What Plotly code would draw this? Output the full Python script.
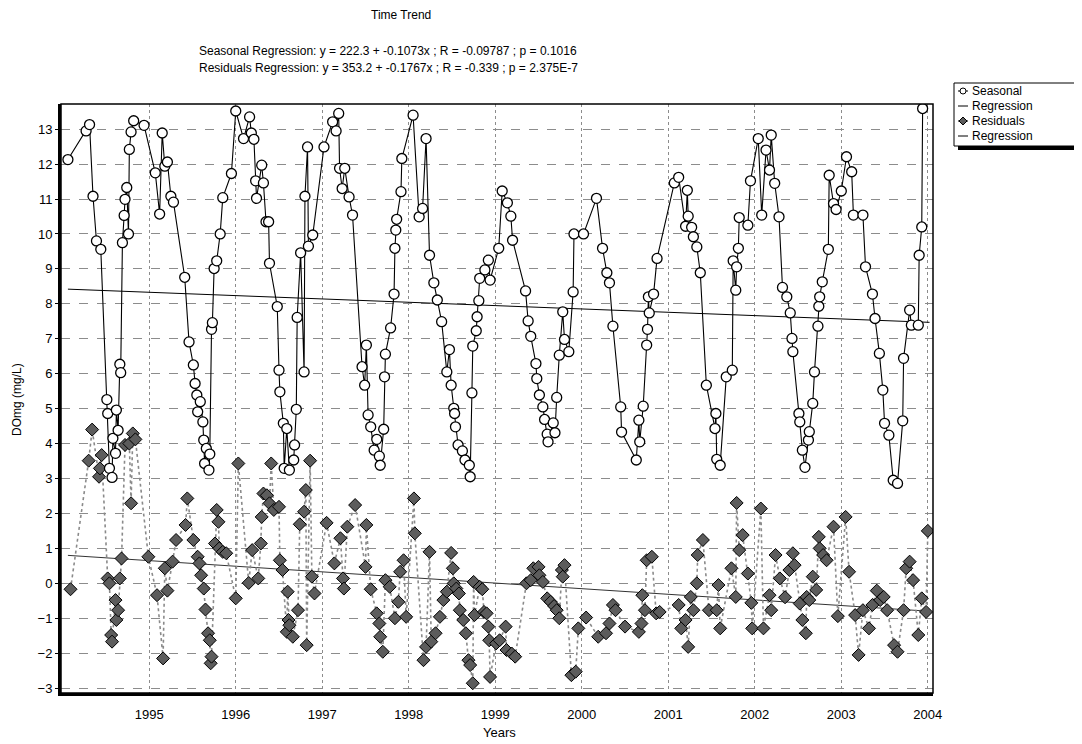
import plotly.graph_objects as go

# ---------------- data ----------------
seasonal_years = [
    1994.06, 1994.27, 1994.31, 1994.35, 1994.39, 1994.44, 1994.51, 1994.52, 1994.54, 1994.57,
    1994.58, 1994.61, 1994.62, 1994.64, 1994.66, 1994.67, 1994.69, 1994.71, 1994.72, 1994.74,
    1994.76, 1994.77, 1994.79, 1994.82, 1994.94, 1995.07, 1995.12, 1995.15, 1995.18, 1995.21,
    1995.25, 1995.28, 1995.41, 1995.46, 1995.51, 1995.53, 1995.55, 1995.56, 1995.59, 1995.62,
    1995.63, 1995.64, 1995.66, 1995.69, 1995.70, 1995.72, 1995.73, 1995.75, 1995.78, 1995.82,
    1995.85, 1995.95, 1996.00, 1996.09, 1996.16, 1996.18, 1996.21, 1996.23, 1996.24, 1996.30,
    1996.32, 1996.35, 1996.38, 1996.39, 1996.48, 1996.50, 1996.51, 1996.55, 1996.56, 1996.59,
    1996.62, 1996.67, 1996.68, 1996.70, 1996.71, 1996.75, 1996.79, 1996.80, 1996.83, 1996.84,
    1996.89, 1997.02, 1997.12, 1997.16, 1997.19, 1997.20, 1997.23, 1997.26, 1997.31, 1997.35,
    1997.46, 1997.49, 1997.51, 1997.53, 1997.56, 1997.60, 1997.63, 1997.66, 1997.67, 1997.71,
    1997.72, 1997.73, 1997.79, 1997.83, 1997.84, 1997.85, 1997.86, 1997.91, 1997.92, 1998.05,
    1998.12, 1998.16, 1998.20, 1998.24, 1998.29, 1998.33, 1998.38, 1998.44, 1998.47, 1998.49,
    1998.52, 1998.53, 1998.54, 1998.57, 1998.62, 1998.65, 1998.70, 1998.71, 1998.73, 1998.74,
    1998.78, 1998.79, 1998.81, 1998.82, 1998.88, 1998.92, 1998.94, 1999.04, 1999.08, 1999.14,
    1999.18, 1999.20, 1999.35, 1999.38, 1999.41, 1999.47, 1999.48, 1999.51, 1999.55, 1999.57,
    1999.60, 1999.61, 1999.67, 1999.69, 1999.71, 1999.74, 1999.78, 1999.80, 1999.85, 1999.90,
    1999.91, 2000.02, 2000.17, 2000.24, 2000.29, 2000.32, 2000.36, 2000.45, 2000.46, 2000.63,
    2000.66, 2000.67, 2000.71, 2000.75, 2000.76, 2000.77, 2000.78, 2000.83, 2000.87, 2001.07,
    2001.12, 2001.20, 2001.22, 2001.23, 2001.27, 2001.29, 2001.33, 2001.37, 2001.44, 2001.54,
    2001.55, 2001.56, 2001.60, 2001.67, 2001.74, 2001.75, 2001.78, 2001.79, 2001.81, 2001.82,
    2001.92, 2001.95, 2002.04, 2002.08, 2002.13, 2002.17, 2002.19, 2002.23, 2002.28, 2002.32,
    2002.37, 2002.41, 2002.43, 2002.44, 2002.51, 2002.52, 2002.55, 2002.58, 2002.62, 2002.63,
    2002.67, 2002.69, 2002.73, 2002.74, 2002.75, 2002.78, 2002.85, 2002.86, 2002.91, 2002.94,
    2003.00, 2003.06, 2003.12, 2003.14, 2003.25, 2003.28, 2003.36, 2003.39, 2003.44, 2003.48,
    2003.50, 2003.55, 2003.60, 2003.65, 2003.71, 2003.72, 2003.79, 2003.81, 2003.89, 2003.90,
    2003.93, 2003.94,
]
seasonal_values = [
    12.13, 12.95, 13.13, 11.08, 9.80, 9.56, 5.26, 4.86, 3.29, 3.03,
    4.15, 3.72, 4.96, 4.38, 6.27, 6.03, 9.75, 10.53, 10.99, 11.33,
    10.00, 12.42, 12.92, 13.24, 13.11, 11.75, 10.57, 12.89, 11.94, 12.06,
    11.08, 10.91, 8.76, 6.91, 6.25, 5.72, 5.39, 4.91, 5.20, 4.62,
    4.10, 3.43, 3.86, 3.24, 3.70, 7.27, 7.46, 9.01, 9.23, 10.00,
    11.04, 11.73, 13.52, 12.73, 13.35, 12.89, 12.71, 11.52, 11.02, 11.97,
    11.46, 10.35, 10.35, 9.16, 7.92, 6.10, 5.48, 4.58, 3.29, 4.43,
    3.24, 3.53, 3.96, 4.98, 7.61, 9.46, 6.05, 11.08, 12.49, 9.65,
    9.97, 12.49, 13.21, 12.95, 13.45, 11.88, 11.30, 11.88, 11.06, 10.54,
    6.20, 5.67, 6.82, 4.82, 4.48, 3.81, 4.12, 3.64, 3.38, 4.41,
    5.91, 6.56, 7.31, 8.28, 9.59, 10.11, 10.42, 11.21, 12.16, 13.40,
    10.49, 10.73, 12.73, 9.39, 8.60, 8.11, 7.49, 6.05, 6.69, 5.67,
    5.01, 4.86, 4.48, 3.96, 3.79, 3.53, 3.38, 3.05, 5.45, 6.79,
    7.23, 7.63, 8.09, 8.73, 8.97, 9.25, 8.68, 9.59, 11.23, 10.89,
    10.51, 9.82, 8.37, 7.51, 7.07, 6.29, 5.86, 5.39, 5.05, 4.69,
    4.27, 4.05, 4.59, 4.31, 5.32, 6.53, 7.77, 6.98, 6.63, 8.34,
    10.00, 10.00, 11.02, 9.59, 8.89, 8.60, 7.36, 5.05, 4.33, 3.53,
    4.67, 4.05, 5.07, 6.82, 7.27, 8.20, 7.74, 8.28, 9.30, 11.46,
    11.62, 10.22, 11.25, 10.51, 10.19, 9.92, 9.63, 8.89, 5.67, 4.43,
    4.86, 3.55, 3.38, 5.91, 6.10, 9.23, 8.39, 9.06, 9.59, 10.47,
    10.25, 11.52, 12.73, 10.54, 12.40, 11.83, 12.83, 11.45, 10.49, 8.47,
    8.20, 7.74, 7.01, 6.63, 4.86, 4.62, 3.81, 3.32, 4.10, 4.34,
    5.15, 6.05, 7.36, 7.93, 8.20, 8.63, 9.56, 11.68, 10.87, 10.70,
    11.23, 12.21, 11.78, 10.54, 10.54, 9.06, 8.28, 7.58, 6.58, 5.53,
    4.58, 4.24, 2.95, 2.86, 4.65, 6.44, 7.82, 7.39, 7.39, 9.39,
    10.20, 13.59,
]

residual_years = [
    1994.09, 1994.30, 1994.34, 1994.42, 1994.43, 1994.45, 1994.52, 1994.54, 1994.56, 1994.57,
    1994.61, 1994.62, 1994.64, 1994.66, 1994.68, 1994.72, 1994.77, 1994.79, 1994.81, 1994.84,
    1994.99, 1995.09, 1995.16, 1995.18, 1995.21, 1995.27, 1995.31, 1995.42, 1995.44, 1995.51,
    1995.56, 1995.58, 1995.60, 1995.63, 1995.65, 1995.68, 1995.70, 1995.71, 1995.72, 1995.76,
    1995.78, 1995.80, 1995.81, 1995.85, 1995.89, 1996.00, 1996.03, 1996.15, 1996.19, 1996.26,
    1996.29, 1996.30, 1996.32, 1996.36, 1996.39, 1996.41, 1996.44, 1996.50, 1996.51, 1996.54,
    1996.59, 1996.60, 1996.61, 1996.62, 1996.66, 1996.72, 1996.74, 1996.79, 1996.81, 1996.82,
    1996.86, 1996.88, 1996.91, 1997.05, 1997.14, 1997.21, 1997.24, 1997.25, 1997.29, 1997.38,
    1997.50, 1997.51, 1997.56, 1997.63, 1997.66, 1997.67, 1997.70, 1997.73, 1997.78, 1997.84,
    1997.88, 1997.90, 1997.94, 1997.97, 1998.06, 1998.07, 1998.17, 1998.20, 1998.24, 1998.26,
    1998.31, 1998.36, 1998.40, 1998.44, 1998.49, 1998.51, 1998.52, 1998.55, 1998.58, 1998.59,
    1998.63, 1998.66, 1998.69, 1998.71, 1998.74, 1998.75, 1998.76, 1998.82, 1998.85, 1998.87,
    1998.90, 1998.92, 1998.93, 1998.94, 1999.01, 1999.05, 1999.12, 1999.13, 1999.19, 1999.23,
    1999.36, 1999.41, 1999.44, 1999.50, 1999.51, 1999.55, 1999.60, 1999.64, 1999.68, 1999.71,
    1999.74, 1999.77, 1999.78, 1999.80, 1999.88, 1999.93, 1999.96, 2000.05, 2000.19, 2000.28,
    2000.32, 2000.36, 2000.39, 2000.50, 2000.66, 2000.69, 2000.70, 2000.73, 2000.75, 2000.81,
    2000.86, 2000.90, 2001.12, 2001.15, 2001.20, 2001.23, 2001.26, 2001.29, 2001.33, 2001.34,
    2001.40, 2001.47, 2001.56, 2001.58, 2001.60, 2001.73, 2001.78, 2001.79, 2001.82, 2001.86,
    2001.92, 2001.96, 2001.97, 2002.07, 2002.10, 2002.17, 2002.19, 2002.24, 2002.29, 2002.35,
    2002.40, 2002.44, 2002.46, 2002.52, 2002.55, 2002.59, 2002.60, 2002.63, 2002.67, 2002.71,
    2002.74, 2002.75, 2002.79, 2002.83, 2002.91, 2002.96, 2003.05, 2003.09, 2003.16, 2003.20,
    2003.25, 2003.32, 2003.36, 2003.41, 2003.45, 2003.49, 2003.53, 2003.61, 2003.65, 2003.72,
    2003.75, 2003.79, 2003.83, 2003.89, 2003.93, 2003.98, 2004.00,
]
residual_values = [
    -0.17, 3.51, 4.40, 3.05, 3.29, 3.67, 0.14, 0.00, -1.48, -1.67,
    -0.48, -1.05, -0.77, 0.14, 0.71, 3.96, 4.00, 2.29, 4.29, 4.12,
    0.76, -0.34, -2.15, 0.43, -0.21, 0.62, 1.24, 1.67, 2.43, 1.24,
    0.76, 0.57, 0.23, -0.15, -0.75, -1.43, -1.63, -2.29, -2.10, 1.14,
    2.10, 1.76, 1.00, 0.90, 0.86, -0.43, 3.43, 0.01, 0.95, 0.14,
    1.14, 1.90, 2.57, 2.52, 2.29, 3.43, 2.10, 2.19, 0.66, 0.38,
    -1.39, -0.24, -1.05, -1.20, -1.53, -0.77, 1.69, 2.05, 2.67, -1.77,
    3.51, 0.19, -0.29, 1.73, 0.57, 1.29, 0.14, -0.15, 1.62, 2.24,
    0.47, 1.67, -0.17, -0.86, -1.15, -1.53, -1.96, 0.09, -0.10, -1.00,
    -0.53, 0.33, 0.66, -0.96, 2.43, 1.43, -2.20, -1.82, 0.90, -1.67,
    -1.43, -0.96, -0.48, -0.24, 0.87, 0.43, 0.00, -0.15, -0.29, -0.77,
    -1.05, -1.43, -2.20, -2.34, -2.86, 0.04, -0.91, -0.10, -0.17, -0.82,
    -0.86, -1.24, -1.63, -2.68, -1.72, -1.63, -1.24, -1.91, -2.01, -2.10,
    0.00, 0.09, 0.43, 0.47, 0.23, 0.04, -0.43, -0.53, -0.65, -0.77,
    -1.00, 0.38, 0.19, 0.52, -2.63, -2.53, -1.29, -0.98, -1.53, -1.43,
    -1.15, -0.62, -0.77, -1.24, -1.39, -1.15, -0.34, -0.77, 0.66, 0.76,
    -0.86, -0.82, -0.62, -1.29, -1.05, -1.82, -0.39, -0.77, 0.00, 0.81,
    1.24, -0.77, -0.77, -0.05, -1.29, 0.43, -0.39, 2.30, 0.95, 1.38,
    0.28, -0.56, -1.29, 2.14, -1.29, -0.34, -0.77, 0.81, 0.14, -0.40,
    0.38, 0.86, 0.52, -0.58, -1.05, -1.43, -0.39, -0.48, 0.19, -0.19,
    1.33, 1.00, 0.81, 0.66, 1.62, -0.94, 1.90, 0.33, -0.91, -2.05,
    -0.77, -1.29, -0.62, -0.21, -0.48, -0.39, -0.77, -1.77, -1.96, -0.77,
    0.43, 0.62, 0.09, -1.48, -0.43, -0.82, 1.50,
]

seasonal_reg_years = [1994.06, 2004.02]
seasonal_reg_values = [8.42, 7.47]
residual_reg_years = [1994.06, 2004.02]
residual_reg_values = [0.80, -0.80]

year_ticks = [1995, 1996, 1997, 1998, 1999, 2000, 2001, 2002, 2003, 2004]
year_labels = [str(y) for y in year_ticks]
value_ticks = list(range(-3, 14))

title_text = "Time Trend"
subtitle_lines = [
    "Seasonal Regression: y = 222.3 + -0.1073x ; R = -0.09787 ; p = 0.1016",
    "Residuals Regression: y = 353.2 + -0.1767x ; R = -0.339 ; p = 2.375E-7",
]
legend_labels = ["Seasonal", "Regression", "Residuals", "Regression"]

# ---------------- layout geometry ----------------
# The page body has an 8px margin, so the figure is drawn 8px in from the
# window's corner; all page-pixel positions below are shifted by that amount.
OFF = 8
W, H = 1082 - OFF, 744 - OFF
# plot-area edges in page pixels
PL, PR, PT, PB = 61, 933, 104, 693
FONT = "Arial, Liberation Sans, Helvetica, sans-serif"


def fx(x):
    return (x - PL) / (PR - PL)


def fy(y):
    return (PB - y) / (PB - PT)


fig = go.Figure()

fig.add_trace(go.Scatter(
    x=seasonal_reg_years, y=seasonal_reg_values, mode="lines",
    line=dict(color="black", width=1), showlegend=False, hoverinfo="skip"))
fig.add_trace(go.Scatter(
    x=residual_reg_years, y=residual_reg_values, mode="lines",
    line=dict(color="#333333", width=1), showlegend=False, hoverinfo="skip"))
fig.add_trace(go.Scatter(
    x=residual_years, y=residual_values, mode="lines+markers",
    line=dict(color="#8a8a8a", width=1.6, dash="dot"),
    marker=dict(symbol="diamond", size=10, color="#5c5c5c",
                line=dict(color="black", width=1)),
    showlegend=False, name="Residuals"))
fig.add_trace(go.Scatter(
    x=seasonal_years, y=seasonal_values, mode="lines+markers",
    line=dict(color="black", width=1.1),
    marker=dict(symbol="circle", size=10, color="white",
                line=dict(color="black", width=1.3)),
    showlegend=False, name="Seasonal"))

shapes = []
# plot frame (thin top/right)
shapes.append(dict(type="rect", xref="paper", yref="paper", x0=0, x1=1, y0=0, y1=1,
                   line=dict(color="black", width=1.5), layer="above"))

# manual legend
LX0, LX1, LY0, LY1 = 954, 1076, 83, 146
shapes.append(dict(type="rect", xref="paper", yref="paper",
                   x0=fx(LX0 + 4), x1=fx(LX1 + 4), y0=fy(LY1 + 4), y1=fy(LY0 + 4),
                   fillcolor="black", line=dict(width=0)))
shapes.append(dict(type="rect", xref="paper", yref="paper",
                   x0=fx(LX0), x1=fx(LX1), y0=fy(LY1), y1=fy(LY0),
                   fillcolor="white", line=dict(color="black", width=1)))
row_y = [91, 106, 121, 136]
for ry in row_y:
    shapes.append(dict(type="line", xref="paper", yref="paper",
                       x0=fx(958), x1=fx(968), y0=fy(ry), y1=fy(ry),
                       line=dict(color="black", width=1)))
# circle symbol for Seasonal
shapes.append(dict(type="circle", xref="paper", yref="paper",
                   x0=fx(960), x1=fx(966), y0=fy(row_y[0] + 3), y1=fy(row_y[0] - 3),
                   fillcolor="white", line=dict(color="black", width=1)))
# diamond symbol for Residuals
cx, cy = 963, row_y[2]
dpath = "M {} {} L {} {} L {} {} L {} {} Z".format(
    fx(cx), fy(cy - 4), fx(cx + 4), fy(cy), fx(cx), fy(cy + 4), fx(cx - 4), fy(cy))
shapes.append(dict(type="path", xref="paper", yref="paper", path=dpath,
                   fillcolor="#5c5c5c", line=dict(color="black", width=1)))

annotations = []
for lbl, ry in zip(legend_labels, row_y):
    annotations.append(dict(xref="paper", yref="paper", x=fx(970), y=fy(ry),
                            xanchor="left", yanchor="middle", text=lbl, showarrow=False,
                            font=dict(family=FONT, size=12, color="black")))

annotations.append(dict(xref="paper", yref="paper", x=fx(401), y=fy(15),
                        xanchor="center", yanchor="middle", text=title_text,
                        showarrow=False, font=dict(family=FONT, size=12, color="black")))
annotations.append(dict(xref="paper", yref="paper", x=fx(197), y=fy(51),
                        xanchor="left", yanchor="middle", text=subtitle_lines[0],
                        showarrow=False, font=dict(family=FONT, size=12, color="black")))
annotations.append(dict(xref="paper", yref="paper", x=fx(197), y=fy(68),
                        xanchor="left", yanchor="middle", text=subtitle_lines[1],
                        showarrow=False, font=dict(family=FONT, size=12, color="black")))
annotations.append(dict(xref="paper", yref="paper", x=fx(17), y=fy(400),
                        xanchor="center", yanchor="middle", text="DOmg (mg/L)",
                        textangle=-90, showarrow=False,
                        font=dict(family=FONT, size=12, color="black")))
annotations.append(dict(xref="paper", yref="paper", x=fx(499), y=fy(732),
                        xanchor="center", yanchor="middle", text="Years",
                        showarrow=False, font=dict(family=FONT, size=13, color="black")))

fig.update_layout(
    width=W, height=H,
    margin=dict(l=PL - OFF, r=W - (PR - OFF), t=PT - OFF, b=H - (PB - OFF), pad=0),
    paper_bgcolor="white", plot_bgcolor="white",
    showlegend=False,
    font=dict(family=FONT, size=13, color="black"),
    shapes=shapes, annotations=annotations,
    xaxis=dict(range=[1993.98, 2004.06], tickvals=year_ticks, ticktext=year_labels,
               showgrid=True, gridcolor="#8c8c8c", gridwidth=1, griddash="dot",
               showline=True, linecolor="black", linewidth=3,
               ticks="outside", ticklen=7, tickcolor="rgba(0,0,0,0)",
               tickfont=dict(family=FONT, size=13), zeroline=False),
    yaxis=dict(range=[-3.14, 13.72], tickvals=value_ticks,
               showgrid=True, gridcolor="#8c8c8c", gridwidth=1, griddash="dash",
               showline=True, linecolor="black", linewidth=3,
               ticks="outside", ticklen=3, tickcolor="black",
               tickfont=dict(family=FONT, size=13), zeroline=False),
)

fig.write_html("out.html")
